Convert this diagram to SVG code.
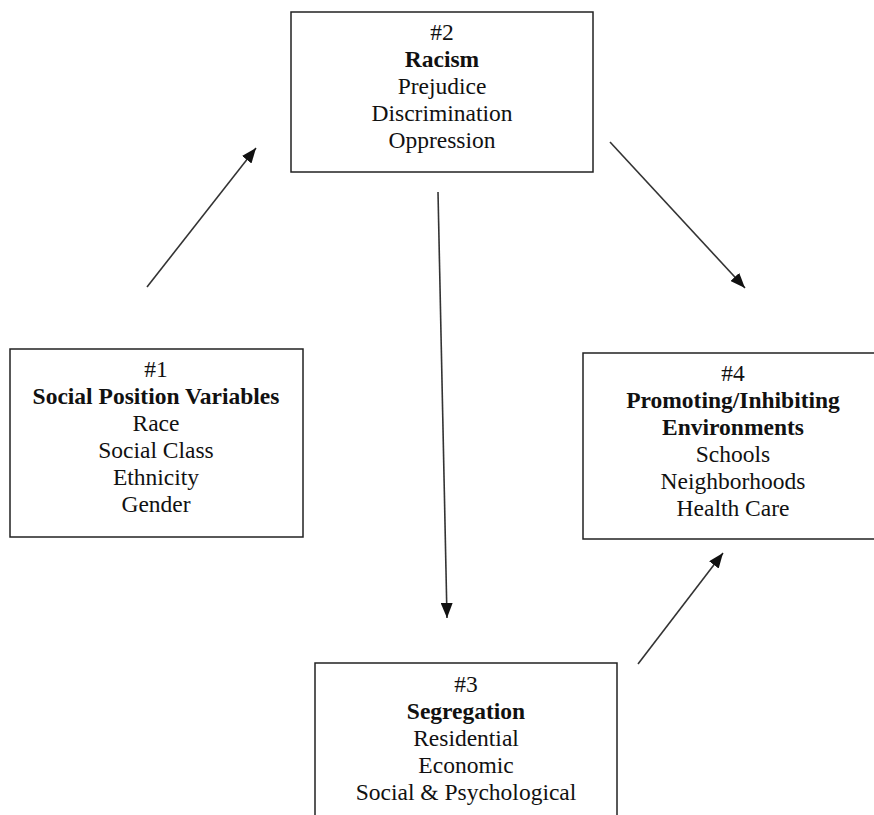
<svg xmlns="http://www.w3.org/2000/svg" width="874" height="815" viewBox="0 0 874 815">
<defs>
<style>
.box{fill:#fff;stroke:#222;stroke-width:1.5}
.t{font-family:"Liberation Serif","Times New Roman",serif;font-size:23.5px;fill:#111;text-anchor:middle}
.b{font-weight:bold}
.c{stroke:#333;stroke-width:1.6;fill:none;marker-end:url(#ah)}
</style>
<marker id="ah" markerUnits="userSpaceOnUse" markerWidth="16" markerHeight="12" refX="15" refY="6" orient="auto">
<path d="M0,0 L15,6 L0,12 Z" fill="#111"/>
</marker>
</defs>
<rect width="874" height="815" fill="#fff"/>
<g id="connectors">
<line class="c" x1="147" y1="287" x2="256" y2="148"/>
<line class="c" x1="610" y1="142" x2="745" y2="288"/>
<line class="c" x1="438" y1="192" x2="447" y2="618"/>
<line class="c" x1="638" y1="664" x2="723" y2="553"/>
</g>
<g id="node2">
<rect class="box" x="291" y="12" width="302" height="160"/>
<text class="t" x="442" y="40">#2</text>
<text class="t b" x="442" y="67">Racism</text>
<text class="t" x="442" y="94">Prejudice</text>
<text class="t" x="442" y="121">Discrimination</text>
<text class="t" x="442" y="148">Oppression</text>
</g>
<g id="node1">
<rect class="box" x="10" y="349" width="293" height="188"/>
<text class="t" x="156" y="377">#1</text>
<text class="t b" x="156" y="404">Social Position Variables</text>
<text class="t" x="156" y="431">Race</text>
<text class="t" x="156" y="458">Social Class</text>
<text class="t" x="156" y="485">Ethnicity</text>
<text class="t" x="156" y="512">Gender</text>
</g>
<g id="node4">
<rect class="box" x="583" y="353" width="300" height="186"/>
<text class="t" x="733" y="381">#4</text>
<text class="t b" x="733" y="408">Promoting/Inhibiting</text>
<text class="t b" x="733" y="435">Environments</text>
<text class="t" x="733" y="462">Schools</text>
<text class="t" x="733" y="489">Neighborhoods</text>
<text class="t" x="733" y="516">Health Care</text>
</g>
<g id="node3">
<rect class="box" x="315" y="663" width="302" height="170"/>
<text class="t" x="466" y="692">#3</text>
<text class="t b" x="466" y="719">Segregation</text>
<text class="t" x="466" y="746">Residential</text>
<text class="t" x="466" y="773">Economic</text>
<text class="t" x="466" y="800">Social &amp; Psychological</text>
</g>
</svg>
